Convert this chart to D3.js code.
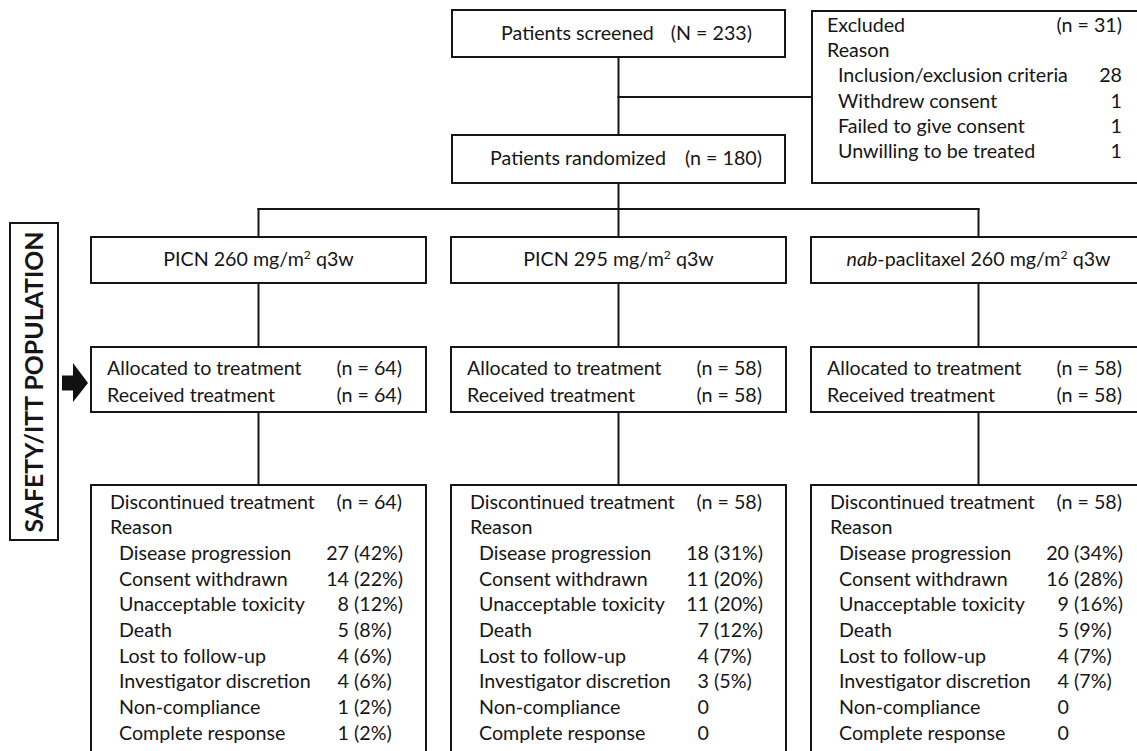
<!DOCTYPE html>
<html>
<head>
<meta charset="utf-8">
<script src="https://cdn.jsdelivr.net/npm/d3@7"></script>
<style>
  html, body { margin: 0; padding: 0; background: #fff; }
  svg { display: block; }
</style>
</head>
<body>
<svg id="chart" width="1137" height="751"></svg>
<script>
// ---------------- DATA ----------------
const screenedLabel = "Patients screened";
const screenedN = "(N = 233)";
const randomizedLabel = "Patients randomized";
const randomizedN = "(n = 180)";

const excludedLabel = "Excluded";
const excludedN = "(n = 31)";
const excludedReasons = ["Inclusion/exclusion criteria", "Withdrew consent", "Failed to give consent", "Unwilling to be treated"];
const excludedCounts = [28, 1, 1, 1];

const armDrugs = ["PICN", "PICN", "nab"];
const armDrugSuffix = ["", "", "-paclitaxel"];
const armDoses = [260, 295, 260];
const allocatedN = [64, 58, 58];
const receivedN = [64, 58, 58];
const discontinuedN = [64, 58, 58];

const discReasons = ["Disease progression", "Consent withdrawn", "Unacceptable toxicity", "Death",
  "Lost to follow-up", "Investigator discretion", "Non-compliance", "Complete response"];
const discCounts = [
  [27, 14, 8, 5, 4, 4, 1, 1],
  [18, 11, 11, 7, 4, 3, 0, 0],
  [20, 16, 9, 5, 4, 4, 0, 0]
];
const discPct = [
  [42, 22, 12, 8, 6, 6, 2, 2],
  [31, 20, 20, 12, 7, 5, null, null],
  [34, 28, 16, 9, 7, 7, null, null]
];
const sideLabel = "SAFETY/ITT POPULATION";

// ---------------- LAYOUT ----------------
const svg = d3.select("#chart");
const FONT = "Lato, 'Open Sans', sans-serif";
const INK = "#161616";
const SW = 2;

// calibrate font size so text widths match the reference
const probe = svg.append("text").attr("font-family", FONT).attr("font-size", 20).text("Discontinued treatment");
const pw = probe.node().getComputedTextLength();
probe.remove();
const FS = 20 * 205 / pw;

const armIdx = d3.range(armDrugs.length);
const xArm = d3.scalePoint().domain(armIdx).range([258.5, 978.5]);
const BOXW = 335;

// row scale for discontinued box (0 = header, 1 = Reason, 2.. = reasons)
const yRow = d3.scaleLinear().domain([0, 9]).range([508.5, 739.5]);
// row scale for excluded box
const yEx = d3.scaleLinear().domain([0, 5]).range([32, 158]);

const g = svg.append("g");

function box(x0, y0, x1, y1) {
  g.append("rect").attr("x", x0).attr("y", y0).attr("width", x1 - x0).attr("height", y1 - y0)
    .attr("fill", "#fff").attr("stroke", INK).attr("stroke-width", SW);
}
function line(x0, y0, x1, y1) {
  g.append("line").attr("x1", x0).attr("y1", y0).attr("x2", x1).attr("y2", y1)
    .attr("stroke", INK).attr("stroke-width", SW).attr("stroke-linecap", "square");
}
function txt(x, y, s, anchor) {
  return g.append("text").attr("x", x).attr("y", y).attr("font-family", FONT).attr("font-size", FS)
    .attr("fill", INK).attr("text-anchor", anchor || "start").text(s);
}

const topCx = 618.5;
// connectors first
line(topCx, 57, topCx, 135);
line(topCx, 97, 812, 97);
line(topCx, 183, topCx, 209);
line(xArm(0), 209, xArm(2), 209);
armIdx.forEach(i => {
  line(xArm(i), 209, xArm(i), 237);
  line(xArm(i), 283, xArm(i), 347);
  line(xArm(i), 412, xArm(i), 485);
});

// top boxes
box(452, 10, 785, 57);
txt(501, 40, screenedLabel);
txt(752, 40, screenedN, "end");
box(452, 135, 785, 183);
txt(490, 165, randomizedLabel);
txt(762, 165, randomizedN, "end");

// excluded box
box(812, 11, 1150, 183);
txt(827, yEx(0), excludedLabel);
txt(1122, yEx(0), excludedN, "end");
txt(827, yEx(1), "Reason");
excludedReasons.forEach((r, k) => {
  txt(838, yEx(k + 2), r);
  txt(1122, yEx(k + 2), excludedCounts[k], "end");
});

// arms
armIdx.forEach(i => {
  const cx = xArm(i), L = cx - BOXW / 2, R = cx + BOXW / 2;
  // arm box
  box(L, 237, R, 283);
  const t = g.append("text").attr("x", cx).attr("y", 266).attr("font-family", FONT)
    .attr("font-size", FS).attr("fill", INK).attr("text-anchor", "middle");
  t.append("tspan").attr("font-style", armDrugSuffix[i] ? "italic" : "normal").text(armDrugs[i]);
  t.append("tspan").text(armDrugSuffix[i] + " " + armDoses[i] + " mg/m");
  t.append("tspan").attr("font-size", FS * 0.62).attr("dy", -FS * 0.38).text("2");
  t.append("tspan").attr("dy", FS * 0.38).text(" q3w");

  // allocated box
  box(L, 347, R, 412);
  txt(L + 16, 375, "Allocated to treatment");
  txt(L + 311, 375, "(n = " + allocatedN[i] + ")", "end");
  txt(L + 16, 402, "Received treatment");
  txt(L + 311, 402, "(n = " + receivedN[i] + ")", "end");

  // discontinued box
  box(L, 485, R, 770);
  txt(L + 19, yRow(0), "Discontinued treatment");
  txt(L + 311, yRow(0), "(n = " + discontinuedN[i] + ")", "end");
  txt(L + 19, yRow(1), "Reason");
  discReasons.forEach((r, k) => {
    txt(L + 28, yRow(k + 2), r);
    txt(L + 258, yRow(k + 2), discCounts[i][k], "end");
    if (discPct[i][k] !== null) txt(L + 263, yRow(k + 2), "(" + discPct[i][k] + "%)");
  });
});

// side label
g.append("rect").attr("x", 10).attr("y", 223).attr("width", 48).attr("height", 317)
  .attr("fill", "#fff").attr("stroke", INK).attr("stroke-width", SW);
g.append("text").attr("transform", "translate(43,532.5) rotate(-90)")
  .attr("font-family", FONT).attr("font-weight", "bold").attr("font-size", 24)
  .attr("fill", INK).attr("textLength", 301).attr("lengthAdjust", "spacingAndGlyphs")
  .text(sideLabel);

// arrow
const arrowPts = [[62, 375.5], [73, 375.5], [73, 363], [88, 383], [73, 402], [73, 390.5], [62, 390.5]];
g.append("path").attr("d", d3.line()(arrowPts) + "Z").attr("fill", "#111");
</script>
</body>
</html>
